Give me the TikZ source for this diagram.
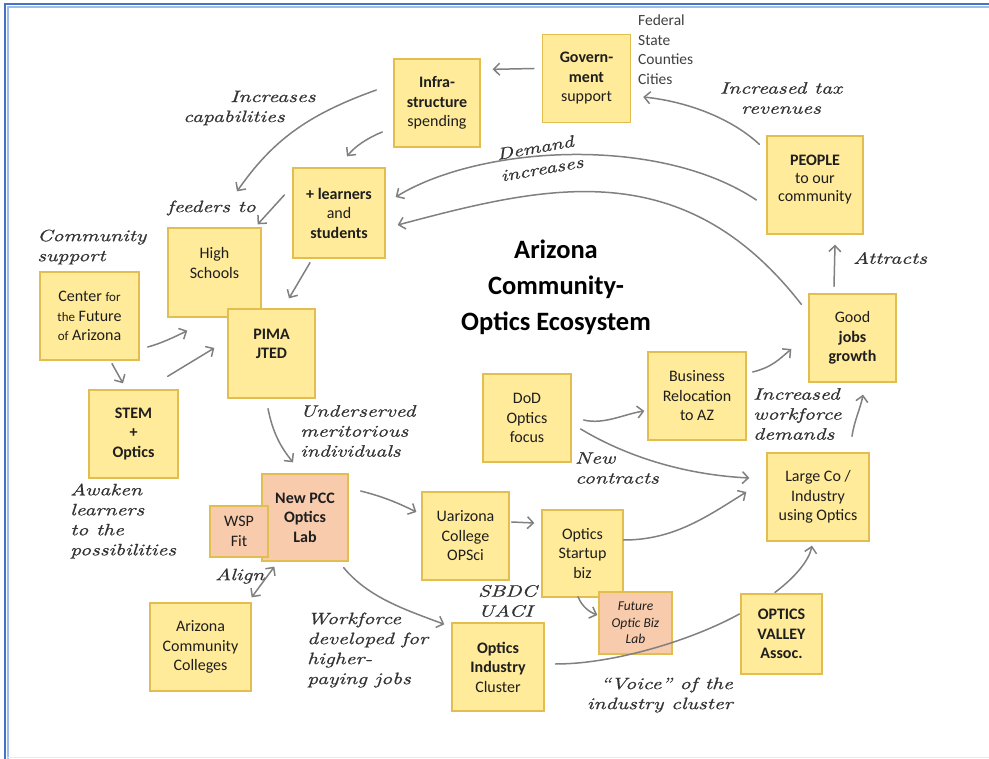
\documentclass[tikz,border=0pt]{standalone}
\usepackage{fontspec}
\usepackage{tikz}
\usetikzlibrary{calc,arrows.meta}
\newfontfamily\boxfont{Carlito}
\newfontfamily\handfont{lmroman10-italic.otf}[FakeStretch=1.3, FakeBold=0.6]

\begin{document}
\begin{tikzpicture}[x=1pt,y=1pt,yscale=-1,xscale=1,
    note/.style={draw={rgb, 255:red, 226; green, 190; blue, 80}, line width=1.3, fill={rgb, 255:red, 255; green, 235; blue, 153},
      font=\boxfont\fontsize{16}{19.5}\selectfont, text={rgb, 255:red, 30; green, 30; blue, 30}, align=center, inner sep=0pt,
      minimum width=88, minimum height=88},
    lab/.style={note, fill={rgb, 255:red, 248; green, 203; blue, 173}},
    hand/.style={font=\handfont\fontsize{16.5}{20}\selectfont, text={rgb, 255:red, 51; green, 51; blue, 51}, align=left, inner sep=0pt},
    arr/.style={draw={rgb, 255:red, 128; green, 128; blue, 128}, line width=1.5, line cap=round, -{Straight Barb[length=6pt,width=12pt]}}]
  \useasboundingbox (0,0) rectangle (989,759);
  %Frame
  \draw [color={rgb, 255:red, 160; green, 188; blue, 235 }, line width=2] (8,759) -- (8,7) -- (989,7);
  \draw [color={rgb, 255:red, 68; green, 114; blue, 196 }, line width=2.5] (5,759) -- (5,4) -- (989,4);
  \draw [color={rgb, 255:red, 236; green, 236; blue, 236 }] (6,757.5) -- (989,757.5);

  %Shape: Square [top row]
  \node [note] (gov) at (586.5,78.5) {\textbf{Govern-}\\\textbf{ment}\\support};
  \node [note, minimum width=86] (infra) at (437,103) {\textbf{Infra-}\\\textbf{structure}\\spending};
  \node [note, minimum width=92, minimum height=90] (learn) at (339,213) {\textbf{+ learners}\\and\\\textbf{students}};
  \node [note, minimum width=96, minimum height=98] (people) at (815,185) {\textbf{PEOPLE}\\[-1.5pt]to our\\[-1.5pt]community\\[-6pt]~};
  %Shape: Square [left side]
  \node [note, minimum width=93, minimum height=89] (high) at (214.5,272.5) {High\\Schools\\~};
  \node [note, minimum width=99] (cffa) at (89.5,316) {Center {\fontsize{13}{19.5}\selectfont for}\\{\fontsize{13}{19.5}\selectfont the} Future\\{\fontsize{13}{19.5}\selectfont of} Arizona};
  \node [note, minimum width=87, minimum height=89] (pima) at (271.5,353.5) {\textbf{PIMA}\\\textbf{JTED}\\~};
  \node [note, minimum width=89] (stem) at (133.5,434) {\textbf{STEM}\\\textbf{+}\\\textbf{Optics}};
  %Shape: Square [right side]
  \node [note, minimum width=87] (jobs) at (852.5,338) {Good\\\textbf{jobs}\\\textbf{growth}};
  \node [note, minimum width=98] (reloc) at (697,396) {Business\\Relocation\\to AZ};
  \node [note] (dod) at (527,418) {DoD\\Optics\\focus};
  \node [note, minimum width=102] (large) at (818,497) {Large Co /\\Industry\\using Optics};
  %Shape: Square [bottom]
  \node [lab, minimum width=86, minimum height=87] (pcc) at (305,517.5) {\textbf{New PCC}\\\textbf{Optics}\\\textbf{Lab}};
  \node [lab, minimum width=58, minimum height=51] (wsp) at (239,531.5) {WSP\\Fit};
  \node [note, minimum width=87] (uaz) at (465.5,536) {Uarizona\\College\\OPSci};
  \node [note, minimum width=81, minimum height=87] (startup) at (582.5,553.5) {Optics\\Startup\\biz};
  \node [lab, minimum width=73, minimum height=62, font=\boxfont\itshape\fontsize{13.5}{16.5}\selectfont] (futlab) at (635.5,623) {Future\\Optic Biz\\Lab};
  \node [note, minimum width=92] (cluster) at (498,667) {\textbf{Optics}\\\textbf{Industry}\\Cluster};
  \node [note, minimum width=101] (acc) at (200.5,647) {Arizona\\Community\\Colleges};
  \node [note, minimum width=81, minimum height=80] (valley) at (781.5,634) {\textbf{OPTICS}\\\textbf{VALLEY}\\\textbf{Assoc.}};

  %Text Node [title]
  \node [font=\boxfont\bfseries\fontsize{26.5}{36}\selectfont, align=center, inner sep=0pt] (title) at (556,287) {Arizona\\Community-\\Optics Ecosystem};
  \node [font=\boxfont\fontsize{15.5}{19.5}\selectfont, text={rgb, 255:red, 64; green, 64; blue, 64}, align=left, inner sep=0pt, anchor=west] (levels) at (638,49.5) {Federal\\State\\Counties\\Cities};

  %Text Node [handwritten]
  \node [hand, anchor=west] (lcap) at (183,108) {\hspace*{47pt}Increases\\capabilities};
  \node [hand, anchor=west] (lfeed) at (167,208) {feeders to};
  \node [hand, anchor=west] (lcom) at (37,247) {Community\\support};
  \node [hand, rotate=10, font=\handfont\fontsize{16.5}{22}\selectfont] (ldem) at (540,158) {Demand\\increases};
  \node [hand, align=center] (ltax) at (781,98) {Increased tax\\revenues};
  \node [hand, anchor=west] (latt) at (853,258) {Attracts};
  \node [hand, anchor=west] (lund) at (300,431) {Underserved\\meritorious\\individuals};
  \node [hand, anchor=west] (lwork) at (753,414) {Increased\\workforce\\demands};
  \node [hand, anchor=west] (lnew) at (575,468) {New\\contracts};
  \node [hand, anchor=west] (lawk) at (70,521) {Awaken\\learners\\to the\\possibilities};
  \node [hand, anchor=west] (lali) at (215,576) {Align};
  \node [hand, anchor=west] (lhig) at (307,650) {Workforce\\developed for\\higher-\\paying jobs};
  \node [hand, anchor=east, align=right] (lvoi) at (733,695) {“Voice” of the\\industry cluster};
  \node [hand, anchor=west] (lsb) at (478,601) {SBDC\\UACI};

  %Curve Lines
  \draw [arr] ($(gov.west)+(-8,-10)$) -- ($(infra.north east)+(12,11)$);
  \draw [arr] ($(people.north west)+(-7,9)$) .. controls +(-30,-28) and +(40,4) .. ($(gov.east)+(12,18.5)$);
  \draw [arr] ($(infra.west)+(-17,-13)$) .. controls +(-70,25) and +(35,-50) .. ($(high.north)+(22.5,-36)$);
  \draw [arr] ($(infra.west)+(-11,29)$) .. controls +(-15,6) and +(8,-10) .. ($(learn.north)+(8,-11)$);
  \draw [arr] ($(people.west)+(-10,15)$) .. controls +(-97,-65) and +(85,-52) .. ($(learn.east)+(10,-16)$);
  \draw [arr] ($(jobs.north west)+(-7,11)$) .. controls +(-119,-153) and +(147,-39) .. ($(learn.east)+(12,12)$);
  \draw [arr] ($(learn.south)+(-29,4)$) -- ($(pima.north)+(17.5,-10)$);
  \draw [arr] ($(learn.west)+(-8,-18)$) -- ($(high.north east)+(-4,-3)$);
  \draw [arr] ($(cffa.east)+(8,31)$) .. controls +(12,-3) and +(-12,6) .. ($(high.south west)+(20,13)$);
  \draw [arr] ($(stem.north east)+(-11,-13)$) -- ($(pima.west)+(-13,-5.5)$);
  \draw [arr] ($(cffa.south)+(22.5,3)$) -- ($(stem.north)+(-10.5,-6)$);
  \draw [arr] ($(pima.south)+(-3.5,10)$) .. controls +(5,25) and +(-12,-15) .. ($(pcc.north)+(-12,-11)$);
  \draw [arr] ($(pcc.east)+(12,-26.5)$) .. controls +(20,5) and +(-20,-10) .. ($(uaz.west)+(-5,-24)$);
  \draw [arr] ($(pcc.south east)+(-5,6)$) .. controls +(25,30) and +(-40,-15) .. ($(cluster.north west)+(-7,2)$);
  \draw [arr, {Straight Barb[length=6pt,width=12pt]}-{Straight Barb[length=6pt,width=12pt]}] ($(acc.north east)+(0,-5)$) -- ($(pcc.south west)+(13,5)$);
  \draw [arr] ($(uaz.east)+(2,-14)$) -- ($(startup.west)+(-7,-30.5)$);
  \draw [arr] ($(startup.south)+(-4.5,-1)$) .. controls +(4,10) and +(-8,-3) .. ($(futlab.west)+(-1,-8)$);
  \draw [arr] ($(startup.east)+(0,-13.5)$) .. controls +(50,0) and +(-40,25) .. ($(large.west)+(-20,-5)$);
  \draw [arr] ($(dod.east)+(9,11)$) .. controls +(50,30) and +(-60,-3) .. ($(large.west)+(-17,-19)$);
  \draw [arr] ($(dod.east)+(12,2)$) .. controls +(20,5) and +(-20,3) .. ($(reloc.west)+(-3,15)$);
  \draw [arr] ($(reloc.east)+(6,-24)$) .. controls +(20,-5) and +(-12,10) .. ($(jobs.west)+(-17,11)$);
  \draw [arr] ($(large.north)+(34,-16)$) .. controls +(2,-15) and +(-2,12) .. ($(jobs.south)+(10.5,12)$);
  \draw [arr] ($(jobs.north)+(-18.5,-7)$) -- ($(people.south)+(20,10)$);
  \draw [arr, -] ($(cluster.east)+(11,-3)$) .. controls +(60,0) and +(-45,25) .. ($(valley.west)+(-1,-20)$);
  \draw [arr] ($(valley.north)+(-6.5,-1)$) .. controls +(20,-15) and +(-3,15) .. ($(large.south)+(-6,4)$);
\end{tikzpicture}
\end{document}
